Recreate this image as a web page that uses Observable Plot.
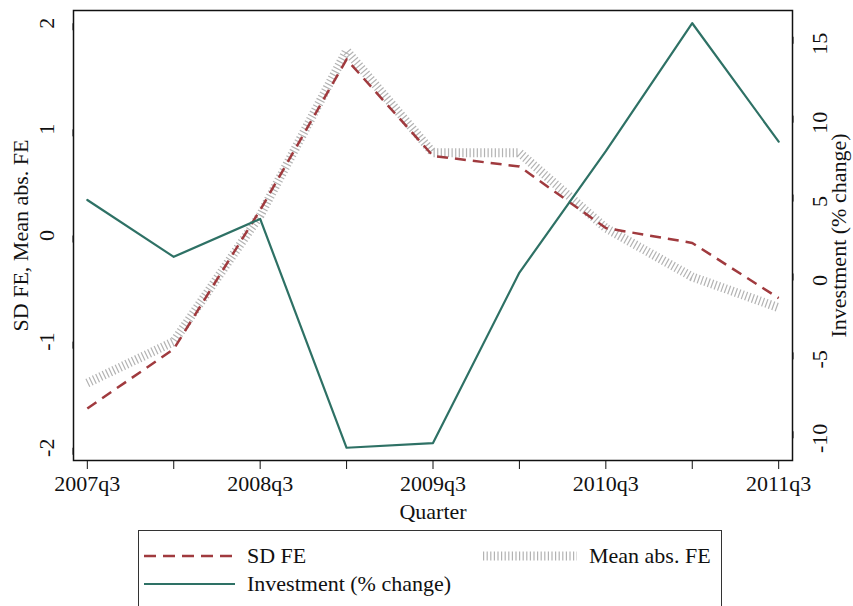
<!DOCTYPE html>
<html>
<head>
<meta charset="utf-8">
<script src="https://cdn.jsdelivr.net/npm/d3@7"></script>
<script src="https://cdn.jsdelivr.net/npm/@observablehq/plot@0.6"></script>
<style>
  body { margin: 0; background: #fff; font-family: "Liberation Serif", "DejaVu Serif", serif; }
  #chart svg { display: block; }
  #legend {
    position: absolute; left: 138px; top: 530px; width: 584px; height: 80px;
    border: 1.5px solid #333; box-sizing: border-box; font-size: 22px; color: #111;
    font-family: "Liberation Serif", "DejaVu Serif", serif;
  }
  .item { position: absolute; display: flex; align-items: center; }
  .item span { margin-left: 12px; font-family: "Liberation Serif", "DejaVu Serif", serif; }
</style>
</head>
<body>
<div id="chart"></div>
<div id="legend">
  <div class="item" style="left:4px; top:12px;">
    <svg width="92" height="12"><line x1="1" y1="6" x2="92" y2="6" stroke="#a03a3e" stroke-width="2.5" stroke-dasharray="12,7"/></svg><span>SD FE</span>
  </div>
  <div class="item" style="left:343px; top:12px;">
    <svg width="95" height="14"><line x1="1" y1="7" x2="95" y2="7" stroke="#b3b3b3" stroke-width="9" stroke-dasharray="1.2,2.4"/></svg><span>Mean abs. FE</span>
  </div>
  <div class="item" style="left:4px; top:40px;">
    <svg width="92" height="12"><line x1="1" y1="6" x2="92" y2="6" stroke="#2e7165" stroke-width="2.2"/></svg><span>Investment (% change)</span>
  </div>
</div>
<script>
const quarters = ["2007q3","2008q1","2008q3","2009q1","2009q3","2010q1","2010q3","2011q1","2011q3"];
const sdFE = [-1.63,-1.07,0.24,1.66,0.75,0.65,0.07,-0.07,-0.59];
const meanAbsFE = [-1.39,-1.0,0.19,1.74,0.78,0.78,0.07,-0.39,-0.68];
const investment = [5.1,1.5,3.9,-10.6,-10.3,0.5,8.2,16.3,8.8];
const leftTicks = [-2,-1,0,1,2];
const rightTicks = [-10,-5,0,5,10,15];
const xLabels = ["2007q3","2008q3","2009q3","2010q3","2011q3"];

const invMin = d3.min(investment), invMax = d3.max(investment);
const toLeft = v => -2 + (v - invMin) * 4 / (invMax - invMin);

const rows = quarters.map((q, i) => ({i, q, sd: sdFE[i], mean: meanAbsFE[i], inv: toLeft(investment[i])}));
const font = "Liberation Serif, DejaVu Serif, serif";

const plot = Plot.plot({
  width: 853,
  height: 522,
  marginLeft: 73,
  marginRight: 61,
  marginTop: 10,
  marginBottom: 62,
  style: {fontFamily: font, fontSize: "22px", color: "#111", background: "#fff"},
  x: {domain: [-0.16, 8.16]},
  y: {domain: [-2.12, 2.12]},
  marks: [
    Plot.frame({stroke: "#111", strokeWidth: 1.5}),
    Plot.axisX({
      ticks: d3.range(quarters.length), tickSize: 9, tickPadding: 6,
      tickFormat: i => xLabels.includes(quarters[i]) ? quarters[i] : "",
      fontSize: 22, label: "Quarter", labelAnchor: "center", labelArrow: "none", labelOffset: 58
    }),
    Plot.axisY({
      anchor: "left", ticks: leftTicks, tickSize: 7, tickPadding: 20, rotate: -90,
      textAnchor: "middle", fontSize: 22, tickFormat: d => String(d),
      label: "SD FE, Mean abs. FE", labelAnchor: "center", labelArrow: "none", labelOffset: 61
    }),
    Plot.axisY(rightTicks.map(toLeft), {
      anchor: "right", tickSize: 7, tickPadding: 20, rotate: -90,
      textAnchor: "middle", fontSize: 22,
      tickFormat: (d, k) => String(rightTicks[k]),
      label: "Investment (% change)", labelAnchor: "center", labelArrow: "none", labelOffset: 53
    }),
    Plot.line(rows, {x: "i", y: "mean", stroke: "#b3b3b3", strokeWidth: 9, strokeDasharray: "1.2,2.4", strokeLinecap: "butt", strokeLinejoin: "miter"}),
    Plot.line(rows, {x: "i", y: "sd", stroke: "#a03a3e", strokeWidth: 2.5, strokeDasharray: "11,7", strokeLinecap: "butt"}),
    Plot.line(rows, {x: "i", y: "inv", stroke: "#2e7165", strokeWidth: 2.2})
  ]
});
document.getElementById("chart").appendChild(plot);
</script>
</body>
</html>
